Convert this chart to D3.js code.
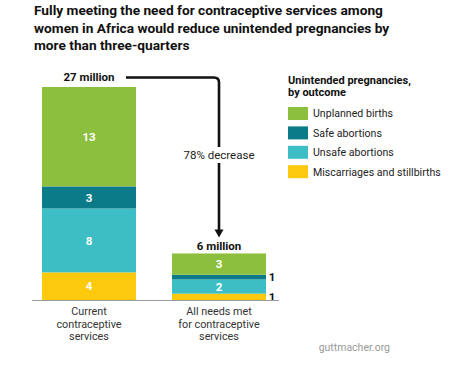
<!DOCTYPE html>
<html>
<head>
<meta charset="utf-8">
<script src="https://cdn.jsdelivr.net/npm/d3@7"></script>
<style>
    body { margin: 0; background: #fff; }
    svg { display: block; font-family: Roboto, "Open Sans", sans-serif; }
</style>
</head>
<body>
<div class="panel"></div>
<script>

const titleLines = [
    "Fully meeting the need for contraceptive services among",
    "women in Africa would reduce unintended pregnancies by",
    "more than three-quarters"
];

const categories = ["current", "allMet"];
const categoryLines = [
    ["Current", "contraceptive", "services"],
    ["All needs met", "for contraceptive", "services"]
];
const totalLabels = ["27 million", "6 million"];
const decreaseLabel = "78% decrease";

// millions of unintended pregnancies
const unplannedBirths = [12.6, 2.7];
const safeAbortions = [2.8, 0.6];
const unsafeAbortions = [8.1, 1.8];
const miscarriages = [3.5, 0.8];

const legendTitle = ["Unintended pregnancies,", "by outcome"];
const outcomes = ["Unplanned births", "Safe abortions", "Unsafe abortions", "Miscarriages and stillbirths"];
const colors = ["#8dbf3e", "#0b7b8a", "#3cbec4", "#fdc90c"];
const source = "guttmacher.org";

const width = 474, height = 372;

const svg = d3.select(".panel").append("svg")
    .attr("width", width)
    .attr("height", height)
    .attr("viewBox", [0, 0, width, height]);

// Title

svg.append("g")
    .selectAll("text")
    .data(titleLines)
    .join("text")
    .attr("x", 34)
    .attr("y", (d, i) => 15 + i * 17.5)
    .attr("font-size", 13.7)
    .attr("font-weight", 700)
    .attr("fill", "#111")
    .text(d => d);

// Scales

const rows = categories.map((c, i) => ({
    category: c,
    "Unplanned births": unplannedBirths[i],
    "Safe abortions": safeAbortions[i],
    "Unsafe abortions": unsafeAbortions[i],
    "Miscarriages and stillbirths": miscarriages[i]
}));

const stackOrder = outcomes.slice().reverse(); // yellow sits on the baseline
const series = d3.stack().keys(stackOrder)(rows);
const totals = rows.map(r => d3.sum(outcomes, k => r[k]));

const x = d3.scaleBand()
    .domain(categories)
    .range([42, 266])
    .paddingInner(0.277)
    .paddingOuter(0);

const y = d3.scaleLinear()
    .domain([0, 27])
    .range([300, 87]);

const color = d3.scaleOrdinal().domain(outcomes).range(colors);
const cx = c => x(c) + x.bandwidth() / 2;

// Bars

const layer = svg.append("g")
    .selectAll("g")
    .data(series)
    .join("g")
    .attr("fill", d => color(d.key));

layer.selectAll("rect")
    .data(d => d)
    .join("rect")
    .attr("x", d => x(d.data.category))
    .attr("width", x.bandwidth())
    .attr("y", d => y(d[1]))
    .attr("height", d => y(d[0]) - y(d[1]));

// Segment values: inside when there is room, beside the bar otherwise

layer.selectAll("text")
    .data(d => d)
    .join("text")
    .each(function(d) {
        const h = y(d[0]) - y(d[1]);
        const inside = h > 10;
        d3.select(this)
            .attr("x", inside ? cx(d.data.category) : x(d.data.category) + x.bandwidth() + 6)
            .attr("y", (y(d[0]) + y(d[1])) / 2)
            .attr("text-anchor", "middle")
            .attr("fill", inside ? "#fff" : "#111")
            .text(Math.round(d[1] - d[0]));
    })
    .attr("dy", "0.36em")
    .attr("font-size", 11.5)
    .attr("font-weight", 700);

// Baseline

svg.append("line")
    .attr("x1", 32)
    .attr("x2", 279)
    .attr("y1", y(0) + 0.5)
    .attr("y2", y(0) + 0.5)
    .attr("stroke", "#9a9a9a")
    .attr("stroke-width", 1);

// Totals

svg.append("g")
    .selectAll("text")
    .data(categories)
    .join("text")
    .attr("x", d => cx(d))
    .attr("y", (d, i) => y(totals[i]) - (i === 0 ? 10 : 7.5))
    .attr("dy", "0.36em")
    .attr("text-anchor", "middle")
    .attr("font-size", 11.5)
    .attr("font-weight", 700)
    .attr("fill", "#111")
    .text((d, i) => totalLabels[i]);

// Connector arrow

const lineY = y(totals[0]) - 9.5;
const lineX = cx(categories[1]);
const tipY = y(totals[1]) - 16;
const r = 5;

svg.append("path")
    .attr("d", `M${cx(categories[0]) + 37},${lineY} H${lineX - r} Q${lineX},${lineY} ${lineX},${lineY + r} V${tipY - 6}`)
    .attr("fill", "none")
    .attr("stroke", "#111")
    .attr("stroke-width", 2.6);

svg.append("path")
    .attr("d", `M${lineX - 4.5},${tipY - 8} L${lineX + 4.5},${tipY - 8} L${lineX},${tipY} Z`)
    .attr("fill", "#111");

const decY = 155;
svg.append("rect")
    .attr("x", lineX - 4)
    .attr("y", decY - 8)
    .attr("width", 8)
    .attr("height", 16)
    .attr("fill", "#fff");

svg.append("text")
    .attr("x", lineX)
    .attr("y", decY)
    .attr("dy", "0.36em")
    .attr("text-anchor", "middle")
    .attr("font-size", 11.5)
    .attr("fill", "#222")
    .text(decreaseLabel);

// Category labels, one text per line

const catLabel = svg.append("g")
    .selectAll("g")
    .data(categories)
    .join("g");

catLabel.selectAll("text")
    .data((d, i) => categoryLines[i].map(t => ({ c: d, t })))
    .join("text")
    .attr("x", d => cx(d.c))
    .attr("y", (d, j) => 311.5 + j * 12.6)
    .attr("dy", "0.34em")
    .attr("text-anchor", "middle")
    .attr("font-size", 10.8)
    .attr("fill", "#333")
    .text(d => d.t);

// Legend

const legend = svg.append("g").attr("transform", "translate(288,0)");

legend.selectAll(".legend-title")
    .data(legendTitle)
    .join("text")
    .attr("class", "legend-title")
    .attr("y", (d, i) => 80 + i * 12.5)
    .attr("dy", "0.36em")
    .attr("font-size", 11)
    .attr("font-weight", 700)
    .attr("fill", "#111")
    .text(d => d);

const item = legend.selectAll(".item")
    .data(outcomes)
    .join("g")
    .attr("class", "item")
    .attr("transform", (d, i) => `translate(0,${107 + i * 19.4})`);

item.append("rect")
    .attr("width", 20)
    .attr("height", 13)
    .attr("fill", d => color(d));

item.append("text")
    .attr("x", 25)
    .attr("y", 6.5)
    .attr("dy", "0.36em")
    .attr("font-size", 10.6)
    .attr("fill", "#222")
    .text(d => d);

// Source

svg.append("text")
    .attr("x", 390)
    .attr("y", 347)
    .attr("dy", "0.36em")
    .attr("text-anchor", "end")
    .attr("font-size", 10.5)
    .attr("fill", "#9a9a9a")
    .text(source);

</script>
</body>
</html>
